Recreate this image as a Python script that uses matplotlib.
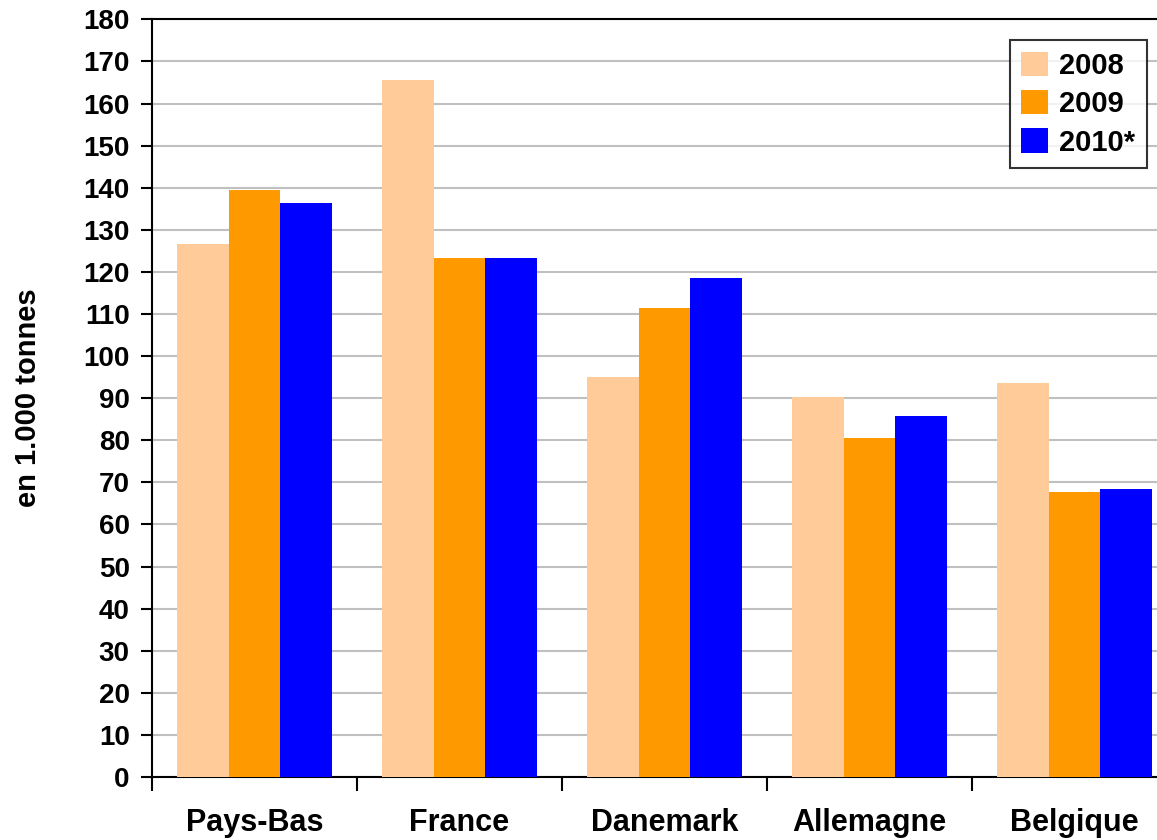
import matplotlib.pyplot as plt
import numpy as np

plt.rcParams['font.family'] = ['Liberation Sans', 'DejaVu Sans']
plt.rcParams['font.weight'] = 'bold'

# Data (1.000 tonnes)
countries = ['Pays-Bas', 'France', 'Danemark', 'Allemagne', 'Belgique']
years = ['2008', '2009', '2010*']
val_2008 = [126.6, 165.5, 95.0, 90.2, 93.6]
val_2009 = [139.4, 123.2, 111.4, 80.5, 67.7]
val_2010 = [136.3, 123.2, 118.5, 85.7, 68.4]
colors = ['#FFCC99', '#FF9900', '#0000FF']

fig = plt.figure(figsize=(11.57, 8.4), dpi=100)
# plot area runs past the right edge of the picture, as in the original
ax = fig.add_axes([0.1314, 0.075, 0.886, 0.902])

x = np.arange(len(countries)) + 0.5
w = 0.252
for j, (vals, lab) in enumerate(zip([val_2008, val_2009, val_2010], years)):
    ax.bar(x + (j - 1) * w, vals, width=w, color=colors[j], label=lab,
           zorder=3, linewidth=0)

ax.set_xlim(0, len(countries))
ax.set_ylim(0, 180)
ax.set_yticks(range(0, 181, 10))
ax.yaxis.grid(True, color='#c0c0c0', linewidth=1.5, zorder=0)
ax.tick_params(axis='y', labelsize=20, length=8, width=1.5, pad=8)

# tick marks between groups, labels centred under groups
ax.set_xticks(range(len(countries) + 1))
ax.set_xticklabels([])
ax.set_xticks(x, minor=True)
ax.set_xticklabels(countries, minor=True, fontsize=22, fontweight='bold')
ax.tick_params(axis='x', which='major', length=10, width=1.5)
ax.tick_params(axis='x', which='minor', length=0, pad=22)

for s in ['left', 'bottom', 'top']:
    ax.spines[s].set_linewidth(1.5)
ax.spines['right'].set_visible(False)

ax.set_ylabel('en 1.000 tonnes', fontsize=21, fontweight='bold', labelpad=30)

leg = ax.legend(loc='upper right', bbox_to_anchor=(1147 / 1157, 1 - 40 / 840),
                bbox_transform=fig.transFigure, fontsize=21, frameon=True,
                fancybox=False, edgecolor='black', handlelength=0.9,
                handleheight=0.9, labelspacing=0.35, borderpad=0.4,
                handletextpad=0.4, borderaxespad=0)
leg.get_frame().set_linewidth(1.5)

fig.savefig('out.png', dpi=100)
